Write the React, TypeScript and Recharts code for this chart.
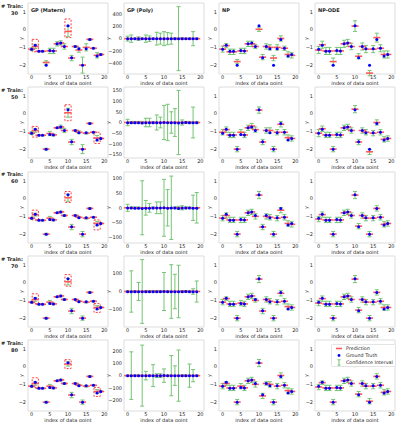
import React from 'react';
import { ScatterChart, Scatter, XAxis, YAxis, ErrorBar, ReferenceArea, Legend } from 'recharts';

// 20 test points, same ground truth in every panel
const pointIndex = [0, 1, 2, 3, 4, 5, 6, 7, 8, 9, 10, 11, 12, 13, 14, 15, 16, 17, 18, 19];
const truth = [-1.1, -0.88, -1.22, -1.22, -2.0, -1.18, -1.2, -0.8, -0.75, -0.95, 0.22, -1.58, -0.95, -1.08, -2.0, -1.08, -0.55, -1.05, -1.48, -1.4];

const trainSizes = [30, 50, 60, 70, 80];
const methods = ['GP (Matern)', 'GP (Poly)', 'NP', 'NP-ODE'];
const xTicks = [0, 5, 10, 15, 20];
const yTicks = [-2, -1, 0, 1];
const yDomain = [-2.5, 1.5];

// GP (Matern): predictions and half-widths of the interval, one row per train size
const maternPred = [
  [-1.1, -0.95, -1.22, -1.22, -1.85, -1.2, -1.2, -0.8, -0.75, -0.95, -0.1, -1.6, -0.95, -1.15, -2.0, -1.0, -0.55, -1.05, -1.45, -1.4],
  [-1.1, -0.95, -1.22, -1.22, -2.0, -1.12, -1.2, -0.8, -0.75, -0.95, 0.05, -1.6, -0.95, -1.05, -2.0, -1.1, -0.55, -1.05, -1.38, -1.4],
  [-1.1, -0.9, -1.22, -1.22, -2.0, -1.1, -1.2, -0.8, -0.75, -0.95, 0.05, -1.6, -0.95, -1.05, -2.0, -1.1, -0.55, -1.05, -1.4, -1.4],
  [-1.1, -0.95, -1.22, -1.22, -2.0, -1.1, -1.2, -0.8, -0.75, -0.95, 0.05, -1.6, -0.95, -1.05, -2.0, -1.1, -0.55, -1.05, -1.4, -1.4],
  [-1.1, -0.95, -1.22, -1.22, -2.0, -1.1, -1.2, -0.8, -0.75, -0.95, 0.15, -1.6, -0.95, -1.05, -2.0, -1.1, -0.55, -1.05, -1.4, -1.4],
];
const maternErr = [
  [0.08, 0.12, 0.03, 0.03, 0.1, 0.15, 0.15, 0.12, 0.12, 0.15, 0.3, 0.15, 0.05, 0.12, 0.45, 0.2, 0.05, 0.03, 0.15, 0.05],
  [0.08, 0.1, 0.03, 0.03, 0.05, 0.12, 0.05, 0.03, 0.1, 0.12, 0.25, 0.15, 0.03, 0.08, 0.25, 0.05, 0.05, 0.03, 0.15, 0.03],
  [0.05, 0.08, 0.03, 0.03, 0.05, 0.1, 0.05, 0.03, 0.05, 0.05, 0.2, 0.15, 0.03, 0.05, 0.15, 0.05, 0.05, 0.03, 0.12, 0.03],
  [0.05, 0.1, 0.03, 0.03, 0.05, 0.1, 0.05, 0.03, 0.05, 0.05, 0.18, 0.15, 0.03, 0.05, 0.12, 0.05, 0.05, 0.03, 0.1, 0.03],
  [0.05, 0.1, 0.03, 0.03, 0.05, 0.1, 0.05, 0.03, 0.05, 0.05, 0.12, 0.15, 0.03, 0.05, 0.12, 0.05, 0.05, 0.03, 0.1, 0.03],
];
// dashed boxes on the Matern panels: point index and y range
const maternBoxes = [
  [{ i: 1, lo: -1.25, hi: -0.55 }, { i: 10, lo: -0.45, hi: 0.6 }],
  [{ i: 1, lo: -1.32, hi: -0.72 }, { i: 10, lo: -0.4, hi: 0.5 }, { i: 18, lo: -1.68, hi: -1.05 }],
  [{ i: 1, lo: -1.2, hi: -0.65 }, { i: 10, lo: -0.22, hi: 0.4 }, { i: 18, lo: -1.76, hi: -1.2 }],
  [{ i: 1, lo: -1.18, hi: -0.63 }, { i: 10, lo: -0.2, hi: 0.45 }, { i: 18, lo: -1.68, hi: -1.18 }],
  [{ i: 1, lo: -1.17, hi: -0.63 }, { i: 10, lo: -0.11, hi: 0.39 }, { i: 18, lo: -1.68, hi: -1.17 }],
];

// GP (Poly): predictions sit on 0 at this scale, intervals are huge
const polyPred = [0, 0, 0, 0, 0, 0, 0, 0, 0, 0, 0, 0, 0, 0, 0, 0, 0, 0, 0, 0];
const polyErr = [
  [40, 60, 10, 30, 10, 60, 45, 10, 105, 90, 115, 100, 90, 15, 525, 15, 5, 10, 115, 10],
  [15, 5, 5, 5, 5, 20, 20, 5, 35, 25, 80, 85, 50, 65, 150, 12, 5, 5, 72, 5],
  [12, 3, 3, 3, 92, 25, 15, 3, 20, 20, 97, 62, 108, 3, 5, 7, 3, 3, 43, 52],
  [5, 114, 5, 50, 176, 5, 5, 5, 5, 5, 105, 5, 148, 95, 145, 5, 5, 5, 15, 58],
  [5, 195, 5, 5, 250, 35, 5, 90, 15, 15, 55, 5, 165, 80, 210, 5, 5, 95, 50, 5],
];
const polyDomains = [[-580, 585], [-166, 166], [-120, 122], [-196, 196], [-290, 292]];
const polyTicks = [
  [-400, -200, 0, 200, 400],
  [-150, -100, -50, 0, 50, 100, 150],
  [-100, -50, 0, 50, 100],
  [-100, 0, 100],
  [-200, -100, 0, 100, 200],
];

// NP
const npPred = [
  [-1.1, -0.9, -1.25, -1.25, -1.8, -1.2, -1.2, -0.8, -0.8, -0.95, 0.02, -1.55, -0.95, -1.0, -1.6, -1.0, -0.5, -1.05, -1.4, -1.45],
  [-1.05, -0.9, -1.2, -1.2, -2.0, -1.05, -1.2, -0.8, -0.7, -0.9, 0.2, -1.6, -0.95, -0.95, -2.0, -1.05, -0.6, -1.05, -1.35, -1.4],
  [-1.1, -0.95, -1.2, -1.2, -2.0, -1.2, -1.2, -0.8, -0.75, -1.0, 0.2, -1.6, -1.0, -1.05, -2.0, -1.1, -0.65, -1.05, -1.4, -1.45],
  [-1.1, -0.9, -1.2, -1.2, -2.0, -1.15, -1.2, -0.8, -0.75, -1.0, 0.2, -1.6, -0.95, -1.05, -2.0, -1.1, -0.6, -1.05, -1.35, -1.4],
  [-1.1, -0.95, -1.2, -1.2, -2.0, -1.1, -1.2, -0.8, -0.75, -1.0, 0.2, -1.65, -0.95, -1.0, -2.0, -1.1, -0.5, -1.05, -1.35, -1.4],
];
const npErr = [
  [0.17, 0.12, 0.15, 0.15, 0.12, 0.15, 0.15, 0.15, 0.15, 0.12, 0.12, 0.15, 0.15, 0.15, 0.15, 0.15, 0.15, 0.12, 0.15, 0.15],
  [0.15, 0.15, 0.15, 0.15, 0.15, 0.15, 0.15, 0.15, 0.15, 0.15, 0.18, 0.15, 0.15, 0.15, 0.15, 0.15, 0.15, 0.15, 0.15, 0.15],
  [0.15, 0.15, 0.15, 0.15, 0.15, 0.15, 0.15, 0.15, 0.15, 0.15, 0.2, 0.15, 0.15, 0.15, 0.15, 0.15, 0.15, 0.15, 0.15, 0.15],
  [0.15, 0.1, 0.15, 0.15, 0.15, 0.15, 0.15, 0.15, 0.15, 0.1, 0.2, 0.15, 0.15, 0.15, 0.15, 0.15, 0.15, 0.15, 0.15, 0.15],
  [0.15, 0.1, 0.15, 0.15, 0.15, 0.15, 0.15, 0.15, 0.15, 0.15, 0.2, 0.15, 0.1, 0.15, 0.15, 0.15, 0.15, 0.15, 0.15, 0.15],
];

// NP-ODE
const odePred = [
  [-1.15, -0.85, -1.2, -1.2, -1.8, -1.2, -1.2, -0.8, -0.75, -0.95, 0.2, -1.5, -0.95, -1.1, -2.45, -1.1, -0.45, -1.05, -1.4, -1.4],
  [-1.1, -0.85, -1.2, -1.2, -2.0, -1.2, -1.2, -0.8, -0.75, -0.95, 0.25, -1.6, -0.95, -1.05, -2.15, -1.1, -0.5, -1.05, -1.45, -1.4],
  [-1.15, -0.9, -1.2, -1.2, -2.0, -1.2, -1.2, -0.8, -0.75, -0.95, 0.2, -1.55, -0.95, -1.1, -2.0, -1.1, -0.55, -1.05, -1.45, -1.4],
  [-1.15, -0.9, -1.2, -1.2, -2.0, -1.2, -1.2, -0.8, -0.75, -0.95, 0.2, -1.55, -0.95, -1.1, -2.0, -1.1, -0.55, -1.05, -1.4, -1.4],
  [-1.15, -0.9, -1.2, -1.2, -2.0, -1.2, -1.2, -0.8, -0.75, -0.95, 0.2, -1.55, -0.95, -1.1, -1.95, -1.1, -0.55, -1.05, -1.45, -1.4],
];
const odeErr = [
  [0.2, 0.2, 0.2, 0.2, 0.2, 0.2, 0.2, 0.2, 0.2, 0.18, 0.3, 0.15, 0.2, 0.2, 0.15, 0.2, 0.25, 0.2, 0.2, 0.2],
  [0.2, 0.15, 0.15, 0.15, 0.15, 0.15, 0.15, 0.15, 0.15, 0.15, 0.2, 0.15, 0.15, 0.15, 0.15, 0.15, 0.15, 0.15, 0.15, 0.15],
  [0.15, 0.15, 0.15, 0.15, 0.15, 0.15, 0.15, 0.15, 0.15, 0.15, 0.2, 0.15, 0.15, 0.15, 0.15, 0.15, 0.15, 0.15, 0.15, 0.15],
  [0.15, 0.15, 0.15, 0.15, 0.15, 0.15, 0.15, 0.15, 0.15, 0.15, 0.2, 0.15, 0.15, 0.15, 0.15, 0.15, 0.15, 0.15, 0.15, 0.15],
  [0.15, 0.1, 0.15, 0.15, 0.15, 0.15, 0.15, 0.15, 0.15, 0.15, 0.2, 0.15, 0.15, 0.15, 0.15, 0.15, 0.15, 0.15, 0.15, 0.15],
];

// layout (px)
const FRAME_LEFT = [28, 124, 219, 315];
const YLABEL_GAP = [7, 16, 10, 9];
const FRAME_W = 80;
const FRAME_H = 71;
const FRAME_TOP0 = 3;
const ROW_STEP = 84.35;
const LEFT_PAD = 36;
const RIGHT_PAD = 3;
const TOP_PAD = 2;
const XAXIS_H = 11;
const BOX_HALF = 0.85;

const RED = '#ff5656';
const BLUE = '#0000ff';
const GREEN = '#76c476';
const FRAME = '#dddddd';
const TEXT = '#262626';
const FONT = '"DejaVu Sans", sans-serif';

const minus = (v: number) => (v < 0 ? '\u2212' + Math.abs(v) : String(v));

const PredMark = (p: any) => (
  <line x1={p.cx - 3.5} x2={p.cx + 3.5} y1={p.cy} y2={p.cy} stroke={RED} strokeWidth={1.6} />
);
const TruthDot = (p: any) => <circle cx={p.cx} cy={p.cy} r={1.5} fill={BLUE} />;

const LegendBox = () => (
  <div style={{ background: '#fff', border: '1px solid #e4e4e4', borderRadius: 1.5, padding: '0 2px 0 3px', fontSize: 4.8, lineHeight: '7px', color: TEXT, fontFamily: FONT, whiteSpace: 'nowrap' }}>
    <div style={{ display: 'flex', alignItems: 'center' }}>
      <svg width={8} height={7}><line x1={1} x2={7} y1={3.5} y2={3.5} stroke={RED} strokeWidth={1.6} /></svg>
      <span style={{ marginLeft: 3 }}>Prediction</span>
    </div>
    <div style={{ display: 'flex', alignItems: 'center' }}>
      <svg width={8} height={7}><circle cx={4} cy={3.5} r={1.4} fill={BLUE} /></svg>
      <span style={{ marginLeft: 3 }}>Ground Truth</span>
    </div>
    <div style={{ display: 'flex', alignItems: 'center' }}>
      <svg width={8} height={7}>
        <line x1={4} x2={4} y1={0.8} y2={6.2} stroke={GREEN} strokeWidth={1} />
        <line x1={2.5} x2={5.5} y1={0.8} y2={0.8} stroke={GREEN} strokeWidth={1} />
        <line x1={2.5} x2={5.5} y1={6.2} y2={6.2} stroke={GREEN} strokeWidth={1} />
      </svg>
      <span style={{ marginLeft: 3 }}>Confidence Interval</span>
    </div>
  </div>
);

interface PanelProps {
  row: number;
  col: number;
  pred: number[];
  err: number[];
  domain: number[];
  ticks: number[];
  boxes?: { i: number; lo: number; hi: number }[];
  showLegend?: boolean;
}

const Panel: React.FC<PanelProps> = ({ row, col, pred, err, domain, ticks, boxes = [], showLegend }) => {
  const frameLeft = FRAME_LEFT[col];
  const frameTop = FRAME_TOP0 + row * ROW_STEP;
  const gap = YLABEL_GAP[col];
  const chartLeft = frameLeft - LEFT_PAD;
  const chartTop = frameTop - TOP_PAD;
  const predData = pointIndex.map((x, k) => ({ x, y: pred[k], err: err[k] }));
  const truthData = pointIndex.map((x, k) => ({ x, y: truth[k] }));
  return (
    <div style={{ position: 'absolute', left: chartLeft, top: chartTop }}>
      <ScatterChart
        width={LEFT_PAD + FRAME_W + RIGHT_PAD}
        height={TOP_PAD + FRAME_H + XAXIS_H}
        margin={{ top: TOP_PAD, right: RIGHT_PAD, bottom: 0, left: LEFT_PAD - 2 * gap }}
      >
        <XAxis
          type="number"
          dataKey="x"
          domain={[-1, 21]}
          ticks={xTicks}
          interval={0}
          axisLine={false}
          tickLine={false}
          tickSize={0}
          tickMargin={1.5}
          height={XAXIS_H}
          tick={{ fontSize: 5, fill: TEXT }}
          label={{ value: 'index of data point', position: 'insideBottom', offset: 0, fontSize: 5, fill: TEXT }}
        />
        <YAxis
          type="number"
          dataKey="y"
          domain={domain}
          ticks={ticks}
          interval={0}
          allowDataOverflow
          axisLine={false}
          tickLine={false}
          tickSize={0}
          tickMargin={2}
          width={2 * gap}
          tickFormatter={minus}
          tick={{ fontSize: 5, fill: TEXT }}
          label={{ value: 'y', angle: -90, position: 'center', fontSize: 5, fill: TEXT }}
        />
        <ReferenceArea x1={-1} x2={21} y1={domain[0]} y2={domain[1]} fill="none" stroke={FRAME} strokeWidth={1} />
        {boxes.map((b) => (
          <ReferenceArea
            key={b.i}
            x1={b.i - BOX_HALF}
            x2={b.i + BOX_HALF}
            y1={b.lo}
            y2={b.hi}
            fill="none"
            stroke="#ff2a2a"
            strokeWidth={0.9}
            strokeDasharray="2 1.5"
          />
        ))}
        <Scatter data={predData} shape={PredMark} isAnimationActive={false}>
          <ErrorBar dataKey="err" direction="y" width={2} stroke={GREEN} strokeWidth={1} isAnimationActive={false} />
        </Scatter>
        <Scatter data={truthData} shape={TruthDot} isAnimationActive={false} />
        {showLegend && (
          <Legend
            layout="vertical"
            align="center"
            verticalAlign="middle"
            content={() => <LegendBox />}
            wrapperStyle={{ left: 331 - chartLeft, top: 344 - chartTop, width: 'auto' }}
          />
        )}
      </ScatterChart>
    </div>
  );
};

export default function App() {
  return (
    <div style={{ position: 'absolute', left: 0, top: 0, width: 396, height: 423, background: '#fff', overflow: 'hidden', fontFamily: FONT }}>
      {trainSizes.map((n, r) => (
        <React.Fragment key={n}>
          <Panel row={r} col={0} pred={maternPred[r]} err={maternErr[r]} domain={yDomain} ticks={yTicks} boxes={maternBoxes[r]} />
          <Panel row={r} col={1} pred={polyPred} err={polyErr[r]} domain={polyDomains[r]} ticks={polyTicks[r]} />
          <Panel row={r} col={2} pred={npPred[r]} err={npErr[r]} domain={yDomain} ticks={yTicks} />
          <Panel row={r} col={3} pred={odePred[r]} err={odeErr[r]} domain={yDomain} ticks={yTicks} showLegend={r === trainSizes.length - 1} />
          <div style={{ position: 'absolute', left: 1, top: FRAME_TOP0 + r * ROW_STEP - 0.5, fontSize: 5, fontWeight: 'bold', color: TEXT, lineHeight: '6px' }}># Train:</div>
          <div style={{ position: 'absolute', left: 11, top: FRAME_TOP0 + r * ROW_STEP + 6.5, fontSize: 5, fontWeight: 'bold', color: TEXT, lineHeight: '6px' }}>{n}</div>
        </React.Fragment>
      ))}
      {methods.map((m, c) => (
        <div key={m} style={{ position: 'absolute', left: FRAME_LEFT[c] + 3, top: FRAME_TOP0 + 4, fontSize: 5, fontWeight: 'bold', color: TEXT, lineHeight: '6px' }}>{m}</div>
      ))}
    </div>
  );
}
